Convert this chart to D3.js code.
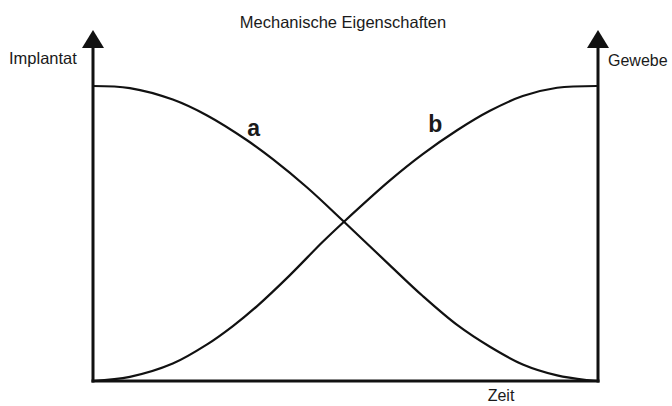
<!DOCTYPE html>
<html lang="de">
<head>
<meta charset="utf-8">
<title>Mechanische Eigenschaften</title>
<script src="https://cdn.jsdelivr.net/npm/d3@7"></script>
<style>
  body { margin: 0; background: #fff; }
  text { font-family: "Liberation Sans", Arial, sans-serif; fill: #1a1a1a; }
</style>
</head>
<body>
<script>
var width = 672;
var height = 406;

// time on x (0..100), mechanical property on y (0..100)
var timeA = [0, 7.3, 15.8, 22.6, 30.5, 35.6, 42.4, 49.7, 58.8, 65.3, 72.1, 78.6, 85.1, 91.9, 97.8, 100];
var implantat = [100, 99.3, 95.4, 90.0, 81.6, 75.2, 65.6, 54.0, 39.2, 28.8, 19.0, 11.6, 5.6, 1.9, 0.3, 0];

var timeB = [0, 7.3, 15.8, 22.6, 27.7, 32.5, 39.0, 45.5, 49.7, 58.8, 65.3, 72.1, 78.6, 85.1, 91.9, 100];
var gewebe = [0, 1.4, 5.9, 12.4, 18.6, 25.4, 35.9, 47.2, 54.0, 68.0, 76.9, 85.0, 91.6, 96.6, 99.4, 100];

var curveLabels = ["a", "b"];
var labelPos = [[31.8, 83], [67.8, 84.5]];
var axisTop = 119; // arrow tip in y units

var x = d3.scaleLinear().domain([0, 100]).range([93, 598]);
var y = d3.scaleLinear().domain([0, 100]).range([381, 86]);

var svg = d3.select("body").append("svg")
    .attr("width", width)
    .attr("height", height);

// axes
function vAxis(xv) {
    svg.append("line")
        .attr("x1", x(xv)).attr("x2", x(xv))
        .attr("y1", y(0) + 1.5).attr("y2", y(axisTop) + 14)
        .attr("stroke", "#111").attr("stroke-width", 3);
    var tip = y(axisTop);
    svg.append("path")
        .attr("d", "M" + x(xv) + "," + tip + " L" + (x(xv) - 11) + "," + (tip + 18) + " L" + (x(xv) + 11) + "," + (tip + 18) + " Z")
        .attr("fill", "#111");
}
vAxis(0);
vAxis(100);

svg.append("line")
    .attr("x1", x(0) - 1.5).attr("x2", x(100) + 1.5)
    .attr("y1", y(0)).attr("y2", y(0))
    .attr("stroke", "#111").attr("stroke-width", 3);

var line = d3.line()
    .x(function (d) { return x(d[0]); })
    .y(function (d) { return y(d[1]); })
    .curve(d3.curveCatmullRom.alpha(0.5));

svg.append("path")
    .attr("d", line(d3.zip(timeA, implantat)))
    .attr("fill", "none").attr("stroke", "#111").attr("stroke-width", 2.2);

svg.append("path")
    .attr("d", line(d3.zip(timeB, gewebe)))
    .attr("fill", "none").attr("stroke", "#111").attr("stroke-width", 2.2);

svg.selectAll(".clabel")
    .data(curveLabels)
    .enter()
    .append("text")
    .attr("class", "clabel")
    .attr("x", function (d, i) { return x(labelPos[i][0]); })
    .attr("y", function (d, i) { return y(labelPos[i][1]); })
    .attr("text-anchor", "middle")
    .attr("font-size", 23)
    .attr("font-weight", "bold")
    .text(function (d) { return d; });

// texts
svg.append("text").attr("x", 343).attr("y", 28)
    .attr("text-anchor", "middle").attr("font-size", 16.5)
    .text("Mechanische Eigenschaften");
svg.append("text").attr("x", 9).attr("y", 64)
    .attr("font-size", 16.5).text("Implantat");
svg.append("text").attr("x", 608).attr("y", 66)
    .attr("font-size", 16).text("Gewebe");
svg.append("text").attr("x", 501).attr("y", 401)
    .attr("text-anchor", "middle").attr("font-size", 16).text("Zeit");
</script>
</body>
</html>
